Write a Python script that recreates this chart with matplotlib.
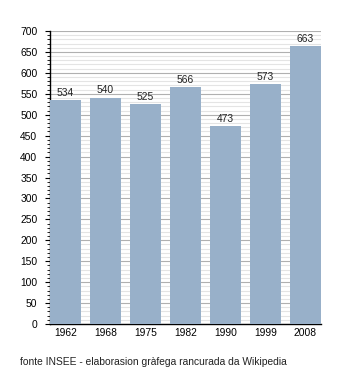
import matplotlib
matplotlib.use("Agg")
import matplotlib.pyplot as plt
from matplotlib.ticker import MultipleLocator

years = ["1962", "1968", "1975", "1982", "1990", "1999", "2008"]
population = [534, 540, 525, 566, 473, 573, 663]

plt.rcParams['font.family'] = ['Liberation Sans', 'DejaVu Sans']

fig = plt.figure(figsize=(3.5, 3.73), dpi=100)
ax = fig.add_axes([50/350, 1-324/373, 271/350, (324-31)/373])

x = list(range(len(years)))
w = 0.775
bars = ax.bar(x, population, width=w, color="#98b0c9", zorder=3)
for xi, v in zip(x, population):
    ax.text(xi, v + 6, str(v), ha="center", va="bottom", fontsize=7.4, color="#222222", zorder=4)

ax.set_xlim(-w/2, len(years) - 1 + w/2)
ax.set_ylim(0, 700)
ax.yaxis.set_major_locator(MultipleLocator(50))
ax.yaxis.set_minor_locator(MultipleLocator(10))
ax.grid(axis="y", which="major", color="#b0b0b0", linewidth=0.8, zorder=1)
ax.grid(axis="y", which="minor", color="#e4e4e4", linewidth=0.8, zorder=0)
ax.set_xticks(x)
ax.set_xticklabels(years)
ax.tick_params(axis="x", length=0, labelsize=7.4, pad=3)
ax.tick_params(axis="y", which="major", length=3.6, width=0.8, labelsize=7.4, pad=5.5)
ax.tick_params(axis="y", which="minor", length=2.2, width=0.6)
for s in ["top", "right"]:
    ax.spines[s].set_visible(False)
ax.spines["left"].set_linewidth(1)
ax.spines["bottom"].set_linewidth(1)

fig.text(20/350, 1-362/373, "fonte INSEE - elaborasion gràfega rancurada da Wikipedia",
         fontsize=7.4, va="center", ha="left", color="#222222")

fig.savefig("out.png", dpi=100)
